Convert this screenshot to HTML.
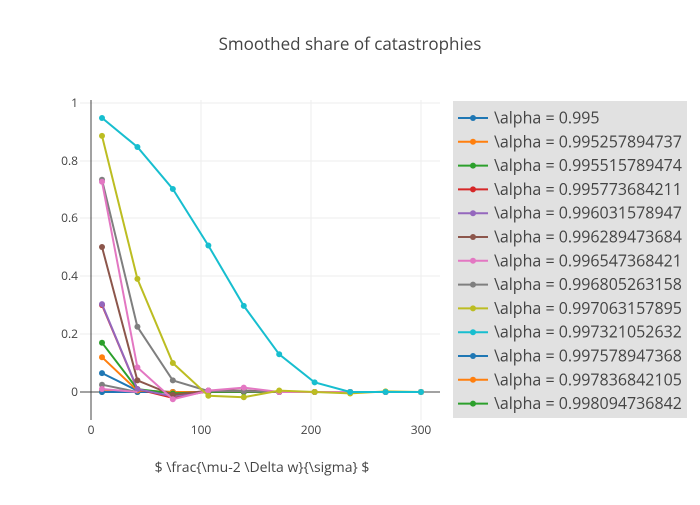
<!DOCTYPE html>
<html><head><meta charset="utf-8"><style>
body{margin:0;background:#fff;font-family:"Open Sans","Liberation Sans",sans-serif}
svg text{font-family:"Open Sans","Liberation Sans",sans-serif}
</style></head><body>
<svg id="s" width="700" height="500" xmlns="http://www.w3.org/2000/svg">
<rect width="700" height="500" fill="#fff"/>
<text x="350" y="50" text-anchor="middle" font-size="17" fill="#444">Smoothed share of catastrophies</text>
<g stroke="#eee" stroke-width="1">
<line x1="201" y1="100" x2="201" y2="420"/><line x1="311" y1="100" x2="311" y2="420"/><line x1="421" y1="100" x2="421" y2="420"/>
<line x1="80" y1="103" x2="440" y2="103"/><line x1="80" y1="161" x2="440" y2="161"/><line x1="80" y1="218" x2="440" y2="218"/><line x1="80" y1="276" x2="440" y2="276"/><line x1="80" y1="334" x2="440" y2="334"/>
</g>
<line x1="80" y1="392" x2="440" y2="392" stroke="#444" stroke-width="1"/>
<line x1="91" y1="100" x2="91" y2="420" stroke="#444" stroke-width="1"/>
<g font-size="12" fill="#444" text-anchor="end">
<text x="78" y="107">1</text><text x="78" y="165">0.8</text><text x="78" y="222">0.6</text><text x="78" y="280">0.4</text><text x="78" y="338">0.2</text><text x="78" y="396">0</text>
</g>
<g font-size="12" fill="#444" text-anchor="middle">
<text x="91" y="434">0</text><text x="201" y="434">100</text><text x="311" y="434">200</text><text x="421" y="434">300</text>
</g>
<text x="262" y="472" text-anchor="middle" font-size="14" fill="#444">$ \frac{\mu-2 \Delta w}{\sigma} $</text>
<g id="series"></g>
<rect x="453" y="101" width="234" height="317" fill="#e1e1e1"/>
<g id="leg" font-size="16" fill="#444"></g>
</svg>
<script>
var C=["#1f77b4","#ff7f0e","#2ca02c","#d62728","#9467bd","#8c564b","#e377c2","#7f7f7f","#bcbd22","#17becf","#1f77b4","#ff7f0e","#2ca02c"];
var L=["0.995","0.995257894737","0.995515789474","0.995773684211","0.996031578947","0.996289473684","0.996547368421","0.996805263158","0.997063157895","0.997321052632","0.997578947368","0.997836842105","0.998094736842"];
var D=[
[0.065,0.005,0,0,0,0,0,0,0,0],
[0.12,0.005,0,0,0,0,0,0,0,0],
[0.17,0.01,-0.005,0,0,0,0,0,0,0],
[0.3,0.01,-0.02,0.003,0.003,0,0,0,0,0],
[0.303,0.01,-0.015,0.005,0.005,0,0,0,0,0],
[0.5,0.04,-0.01,0.005,0.005,0,0,0,0,0],
[0.725,0.085,-0.025,0.005,0.015,0,0,0,0,0],
[0.732,0.225,0.04,0.003,0.003,0,0,0,0,0],
[0.883,0.39,0.1,-0.013,-0.018,0.005,0,-0.005,0.002,0],
[0.945,0.845,0.70,0.505,0.297,0.13,0.033,0,0,0],
[0,0,0,0,0,0,0,0,0,0],
[0.003,0,0,0,0,0,0,0,0,0],
[0,0,0,0,0,0,0,0,0,0]];
var xs=[10,42.2,74.4,106.7,138.9,171.1,203.3,235.6,267.8,300];
var ns="http://www.w3.org/2000/svg",g=document.getElementById("series"),lg=document.getElementById("leg");
function el(t,a,p){var e=document.createElementNS(ns,t);for(var k in a)e.setAttribute(k,a[k]);p.appendChild(e);return e;}
var order=[12,11,10,0,1,2,3,4,5,7,6,8,9];
order.forEach(function(i){
 var pts=D[i].map(function(v,j){return (91+1.1*xs[j]).toFixed(1)+","+(392-290*v).toFixed(1)}).join(" ");
 el("polyline",{points:pts,fill:"none",stroke:C[i],"stroke-width":2},g);
 D[i].forEach(function(v,j){el("circle",{cx:91+1.1*xs[j],cy:392-290*v,r:3,fill:C[i]},g);});
});
el("polyline",{points:"102,384.7 137.4,392",fill:"none",stroke:"#7f7f7f","stroke-width":2},g);
el("circle",{cx:102,cy:384.7,r:3,fill:"#7f7f7f"},g);
el("polyline",{points:"102,389 137.4,392",fill:"none",stroke:"#e377c2","stroke-width":2},g);
el("circle",{cx:102,cy:389,r:3,fill:"#e377c2"},g);
for(var i=0;i<13;i++){
 var y=118+23.8*i;
 el("line",{x1:458,y1:y,x2:488,y2:y,stroke:C[i],"stroke-width":2},lg);
 el("circle",{cx:473,cy:y,r:3,fill:C[i]},lg);
 var t=el("text",{x:494,y:y+5.5},lg);t.textContent="\\alpha = "+L[i];
}
</script>
</body></html>
